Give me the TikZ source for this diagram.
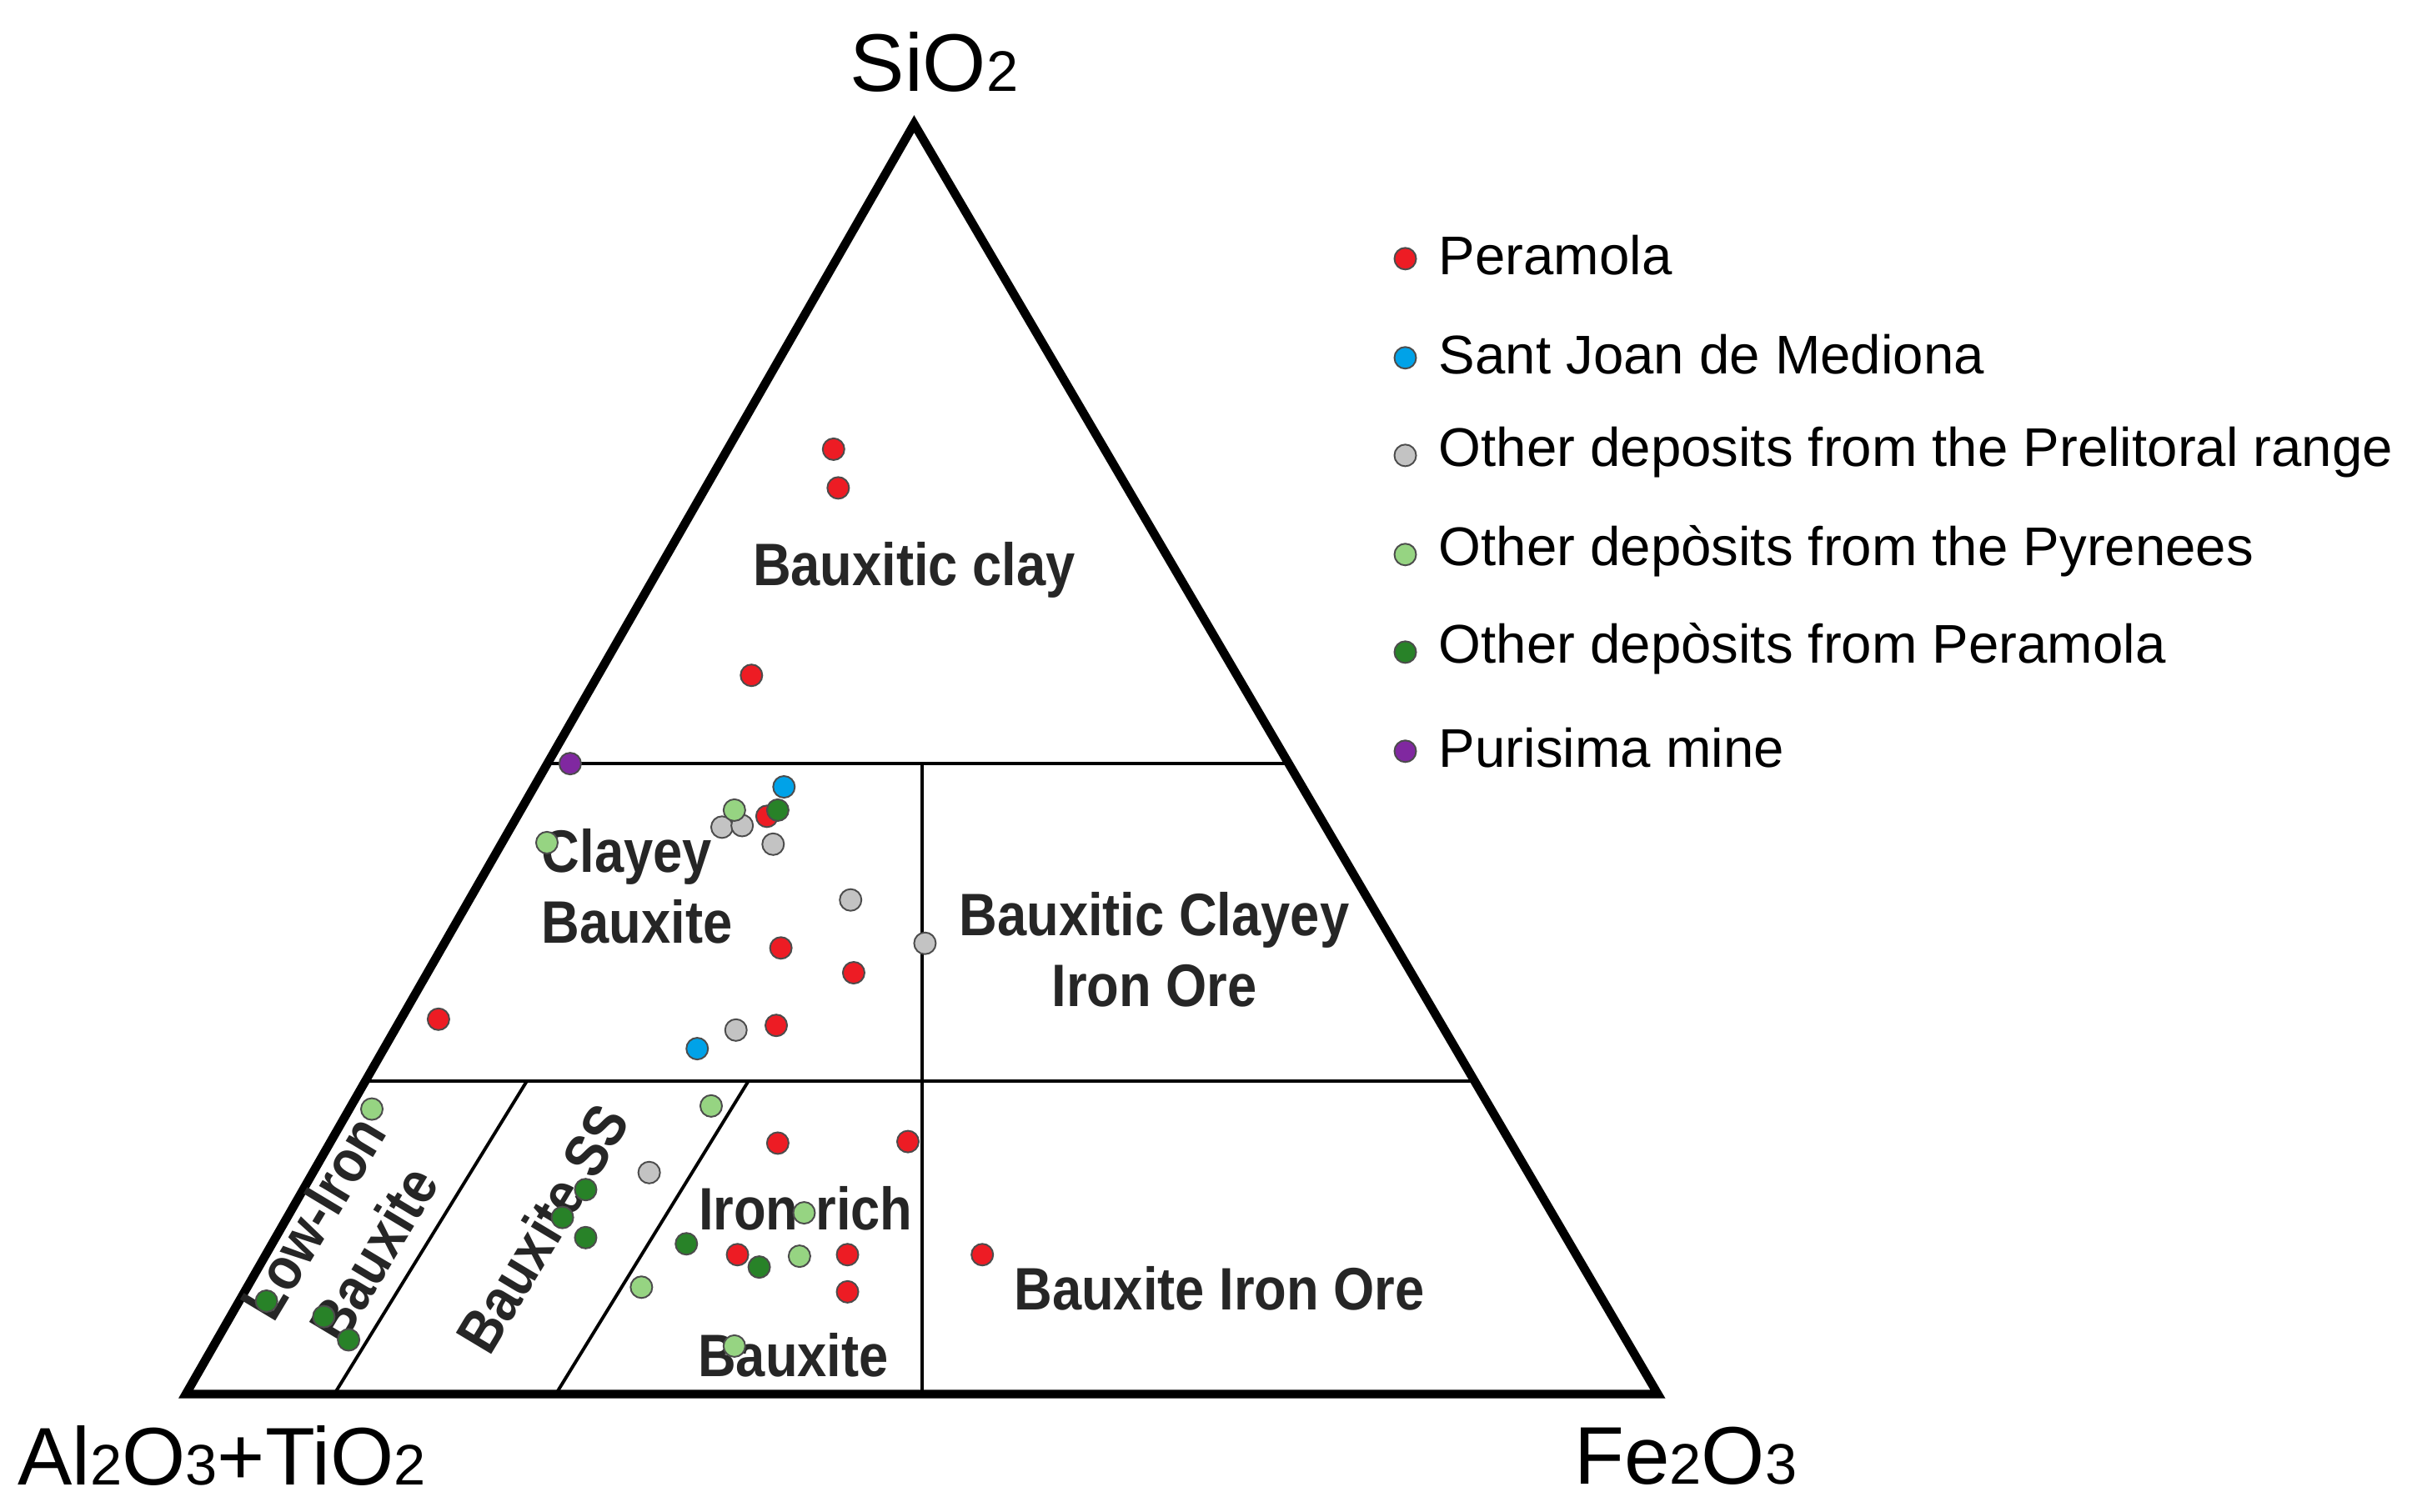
\documentclass[tikz,border=0pt]{standalone}
\usepackage{fontspec}
\setmainfont{Liberation Sans}
\newfontfamily\narrowf[FakeStretch=0.88]{Liberation Sans}
\usetikzlibrary{calc}
\definecolor{cred}{RGB}{237,28,36}
\definecolor{cblue}{RGB}{0,162,232}
\definecolor{cgray}{RGB}{195,195,195}
\definecolor{clg}{RGB}{150,212,130}
\definecolor{cdg}{RGB}{40,130,40}
\definecolor{cpur}{RGB}{128,40,160}
\newcommand{\sbs}[1]{{\fontsize{10.5pt}{11pt}\selectfont #1}}
\begin{document}
\begin{tikzpicture}[x=0.01cm,y=-0.01cm,
  dot/.style={circle,draw=black!70,line width=0.3pt,inner sep=0pt,minimum size=0.14cm},
  field/.style={font=\narrowf\fontsize{11pt}{13pt}\selectfont\bfseries,text=black!85,inner sep=0pt,align=left},
  corner/.style={font=\fontsize{15pt}{17pt}\selectfont,inner sep=0pt},
  legtext/.style={font=\fontsize{10pt}{12pt}\selectfont,anchor=west,inner sep=0pt}]
\useasboundingbox (0,0) rectangle (1560,976);
\coordinate (A) at (590,80);
\coordinate (L) at (120,900);
\coordinate (R) at (1070,900);
\draw[line width=1.6pt,line join=miter] (A) -- (L) -- (R) -- cycle;
\coordinate (h1l) at (355,493); \coordinate (h1r) at (833,493);
\coordinate (h2l) at (238,698); \coordinate (h2r) at (950,698);
\draw[line width=0.6pt] (h1l) -- (h1r);
\draw[line width=0.6pt] (h2l) -- (h2r);
\coordinate (v1) at (595,493); \coordinate (v2) at (595,900);
\draw[line width=0.6pt] (v1) -- (v2);
\coordinate (d1a) at (217,898); \coordinate (d1b) at (340,698);
\coordinate (d2a) at (360,898); \coordinate (d2b) at (483,698);
\draw[line width=0.6pt] (d1a) -- (d1b);
\draw[line width=0.6pt] (d2a) -- (d2b);
% field labels
\node[field] (f1) at (590,368) {Bauxitic clay};
\node[field,anchor=west] (f2) at (349,572) {Clayey\\Bauxite};
\node[field,align=center] (f3) at (745,613) {Bauxitic Clayey\\Iron Ore};
\node[field] (f4) at (520,780) {Iron-rich};
\node[field] (f5) at (512,875) {Bauxite};
\node[field] (f6) at (787,832) {Bauxite Iron Ore};
\node[field,rotate=59,align=center] (f7) at (222,798) {Low-Iron\\Bauxite};
\node[field,rotate=59] (f8) at (350,793) {Bauxite SS};
% corners
\node[corner] (cs) at (603,40) {SiO\sbs{2}};
\node[corner] (cl) at (143,940) {Al\sbs{2}O\sbs{3}+TiO\sbs{2}};
\node[corner] (cf) at (1088,940) {Fe\sbs{2}O\sbs{3}};
% dots
\foreach \p [count=\i] in {(538,290),(541,315),(485,436),(495,527),(504,612),(551,628),(283,658),(501,662),(502,738),(586,737),(476,810),(547,810),(634,810),(547,834)}
  \node[dot,fill=cred] (r\i) at \p {};
\foreach \p [count=\i] in {(506,508),(450,677)}
  \node[dot,fill=cblue] (b\i) at \p {};
\foreach \p [count=\i] in {(466,534),(479,533),(499,545),(549,581),(597,609),(475,665),(419,757)}
  \node[dot,fill=cgray] (g\i) at \p {};
\foreach \p [count=\i] in {(474,523),(353,544),(240,716),(459,714),(519,783),(516,811),(414,831),(474,869)}
  \node[dot,fill=clg] (lg\i) at \p {};
\foreach \p [count=\i] in {(502,523),(378,768),(363,786),(378,799),(443,803),(490,818),(172,840),(209,850),(225,865)}
  \node[dot,fill=cdg] (dg\i) at \p {};
\node[dot,fill=cpur] (p1) at (368,493) {};
% legend
\foreach \c/\t/\y [count=\i] in {cred/Peramola/165,cblue/Sant Joan de Mediona/229,cgray/Other deposits from the Prelitoral range/292,clg/Other depòsits from the Pyrenees/356,cdg/Other depòsits from Peramola/419,cpur/Purisima mine/483}{
  \node[dot,fill=\c] (ld\i) at (907,\y+2) {};
  \node[legtext] (lt\i) at (928,\y) {\t};
}
\end{tikzpicture}
\end{document}
